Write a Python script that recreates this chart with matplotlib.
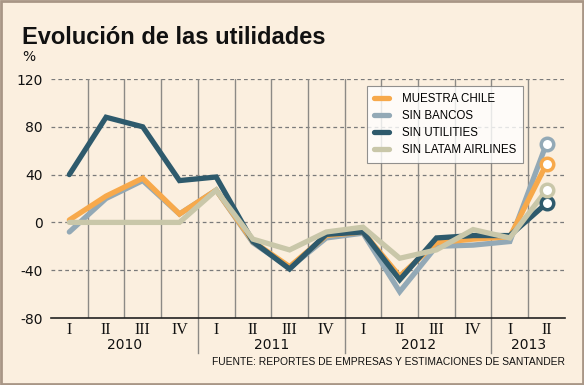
import matplotlib.pyplot as plt

quarters = ['I', 'II', 'III', 'IV', 'I', 'II', 'III', 'IV', 'I', 'II', 'III', 'IV', 'I', 'II']
years = ['2010', '2011', '2012', '2013']
year_mid = [1.5, 5.5, 9.5, 12.5]
year_breaks = [3.5, 7.5, 11.5]

muestra_chile = [2, 22, 37, 7, 27, -16, -37, -11, -8, -45, -17, -14, -12, 49]
sin_bancos = [-8, 20, 35, 7, 27, -17, -38, -13, -9, -58, -20, -19, -16, 66]
sin_utilities = [40, 88, 80, 35, 38, -16, -39, -10, -8, -48, -13, -11, -11, 16]
sin_latam = [0, 0, 0, 0, 27, -14, -23, -8, -4, -30, -23, -6, -13, 27]

bg = '#fbefdf'
c_orange = '#f7a94b'
c_grey = '#93a9b6'
c_dark = '#2e5a6c'
c_beige = '#c9c7a9'

fig = plt.figure(figsize=(5.84, 3.85), dpi=100, facecolor=bg)
ax = fig.add_axes([0.0873, 0.174, 0.880, 0.6208])
ax.set_facecolor(bg)

x = list(range(len(quarters)))
# draw order: grey, orange, dark, beige
series = [
    ('SIN BANCOS', sin_bancos, c_grey, 2),
    ('MUESTRA CHILE', muestra_chile, c_orange, 3),
    ('SIN UTILITIES', sin_utilities, c_dark, 4),
    ('SIN LATAM AIRLINES', sin_latam, c_beige, 5),
]
handles = {}
for name, vals, col, z in series:
    ln, = ax.plot(x, vals, color=col, lw=3.8, solid_joinstyle='miter', solid_capstyle='round',
                  zorder=z, label=name)
    ax.plot(x[-1], vals[-1], marker='o', ms=9, mfc='white', mec=col, mew=2.5, zorder=z + 5)
    handles[name] = ln

ax.set_xlim(-0.5, 13.5)
ax.set_ylim(-80, 120)
ax.set_yticks([-80, -40, 0, 40, 80, 120])
ax.set_yticklabels(['-80', '-40', '0', '40', '80', '120'])
for v in [-40, 0, 40, 80, 120]:
    ax.axhline(v, color='#7a7a7a', lw=0.9, ls=(0, (3, 2.5)), zorder=1)
for b in range(1, 14):
    ax.axvline(b - 0.5, color='#8c8a86', lw=1.0, zorder=1)

for s in ['top', 'right', 'left']:
    ax.spines[s].set_visible(False)
ax.spines['bottom'].set_color('#222222')
ax.spines['bottom'].set_linewidth(1.2)
ax.tick_params(axis='y', length=0, labelsize=10, pad=6, colors='#111111')
ax.tick_params(axis='x', length=0, pad=3)
ax.set_xticks(x)
ax.set_xticklabels(quarters, family='Liberation Serif', fontsize=11.5, color='#111111')

for ym, yl in zip(year_mid, years):
    ax.text(ym, -0.115, yl, transform=ax.get_xaxis_transform(), ha='center', va='center',
            fontsize=10, color='#111111')
for yb in year_breaks:
    ax.plot([yb, yb], [0, -0.145], transform=ax.get_xaxis_transform(), color='#8c8a86',
            lw=1.0, clip_on=False)

order = ['MUESTRA CHILE', 'SIN BANCOS', 'SIN UTILITIES', 'SIN LATAM AIRLINES']
leg = ax.legend([handles[n] for n in order], order, loc='upper left',
                bbox_to_anchor=(0.615, 0.97), frameon=True, fancybox=False,
                prop={'family': 'Liberation Sans', 'size': 8.3},
                handlelength=1.3, handletextpad=1.1, labelspacing=0.42,
                borderpad=0.6, borderaxespad=0)
leg.get_frame().set_edgecolor('#777777')
leg.get_frame().set_linewidth(0.8)
leg.set_zorder(20)

fig.text(0.038, 0.885, 'Evolución de las utilidades', fontsize=17, fontweight='bold',
         family='Liberation Sans', color='#111111')
fig.text(0.038, 0.852, '%', fontsize=10, va='center', color='#111111')
fig.text(0.967, 0.06, 'FUENTE: REPORTES DE EMPRESAS Y ESTIMACIONES DE SANTANDER',
         fontsize=7.4, ha='right', va='center', color='#111111', family='Liberation Sans')

fig.patches.append(plt.Rectangle((0.002, 0.003), 0.996, 0.994, transform=fig.transFigure,
                                 fill=False, edgecolor='#a89686', lw=2))

fig.savefig('out.png', dpi=100, facecolor=bg)
